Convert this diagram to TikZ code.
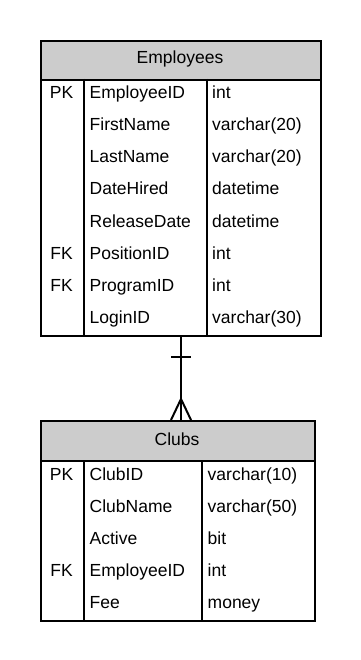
\documentclass[tikz,border=0pt]{standalone}
\usepackage{fontspec}
\setmainfont{Liberation Sans}
\usetikzlibrary{calc}
\definecolor{headgray}{HTML}{CCCCCC}
\begin{document}
\begin{tikzpicture}[x=1pt,y=-1pt,
  txt/.style={inner sep=0pt, font=\fontsize{17.5}{21}\selectfont},
  tablebox/.style={draw, line width=2pt, inner sep=0pt, anchor=north west},
  headbox/.style={tablebox, fill=headgray},
  cell/.style={txt, anchor=base west},
  keycell/.style={txt, anchor=base},
  divider/.style={line width=1.6pt},
  rel/.style={line width=2pt}]
\useasboundingbox (0,0) rectangle (360,660);
\fill[white] (0,0) rectangle (360,660);

% ---------- Employees table ----------
\node[headbox, minimum width=280pt, minimum height=39pt] (emphead) at (40,40) {};
\node[tablebox, minimum width=280pt, minimum height=256pt] (empbody) at (40,79) {};
\node[keycell] (emptitle) at (180,64) {Employees};
\draw[divider] (84,79) -- (84,335);
\draw[divider] (207,79) -- (207,335);
\foreach \key/\name/\type [count=\i] in {PK/EmployeeID/int, /FirstName/varchar(20),
    /LastName/varchar(20), /DateHired/datetime, /ReleaseDate/datetime,
    FK/PositionID/int, FK/ProgramID/int, /LoginID/varchar(30)} {
  \node[keycell] (e-key-\i) at (61.5,67+32*\i) {\key};
  \node[cell] (e-name-\i) at (89.5,67+32*\i) {\name};
  \node[cell] (e-type-\i) at (212,67+32*\i) {\type};
}

% ---------- Clubs table ----------
\node[headbox, minimum width=274pt, minimum height=40pt] (clubhead) at (40,420) {};
\node[tablebox, minimum width=274pt, minimum height=160pt] (clubbody) at (40,460) {};
\node[keycell] (clubtitle) at (177,445) {Clubs};
\draw[divider] (84,460) -- (84,620);
\draw[divider] (202,460) -- (202,620);
\foreach \key/\name/\type [count=\i] in {PK/ClubID/varchar(10), /ClubName/varchar(50),
    /Active/bit, FK/EmployeeID/int, /Fee/money} {
  \node[keycell] (c-key-\i) at (61.5,448+32*\i) {\key};
  \node[cell] (c-name-\i) at (89.5,448+32*\i) {\name};
  \node[cell] (c-type-\i) at (207.5,448+32*\i) {\type};
}

% ---------- one-to-many relationship ----------
\coordinate (one) at ($(empbody.south)+(0,20)$);
\coordinate (many) at (empbody.south |- clubhead.north);
\draw[rel] (empbody.south) -- (many);
\draw[rel] ($(one)+(-10,0)$) -- ($(one)+(10,0)$);
\draw[rel, line join=miter] ($(many)+(-10,0)$) -- ($(many)+(0,-21)$) -- ($(many)+(10,0)$);
\end{tikzpicture}
\end{document}
